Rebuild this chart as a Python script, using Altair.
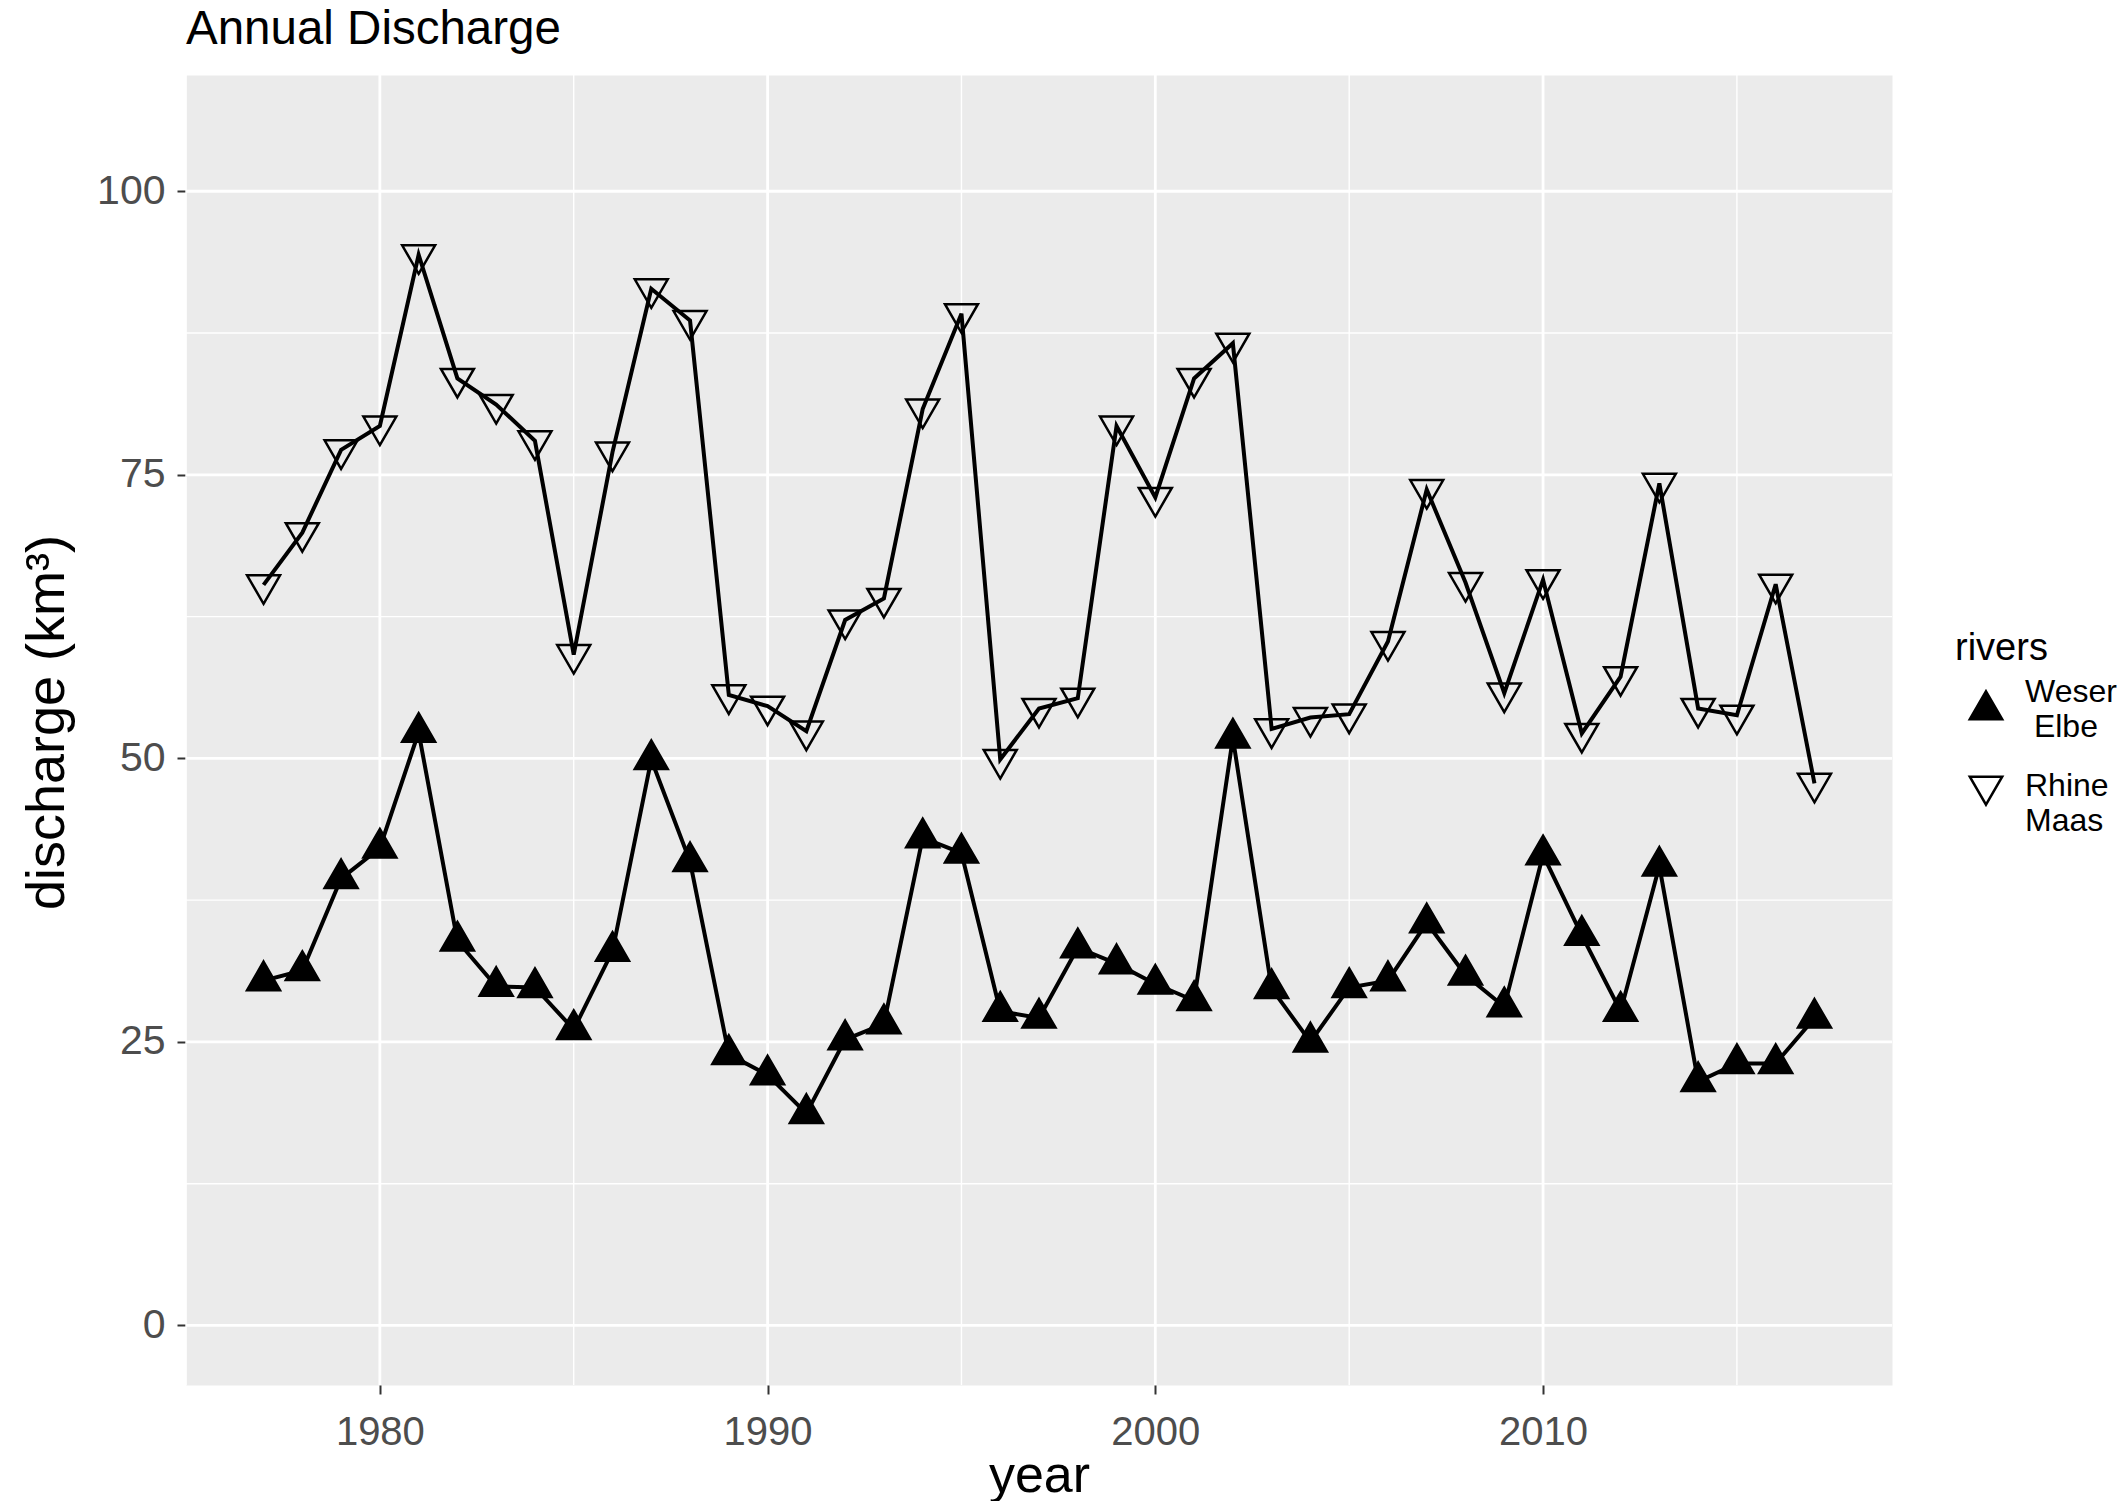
import altair as alt
import pandas as pd

FONT = "Liberation Sans"

years = list(range(1977, 2018))
weser_elbe = [30.4, 31.3, 39.4, 42.1, 52.3, 33.9, 29.9, 29.8, 26.1, 33.0,
              49.9, 40.9, 23.9, 22.1, 18.7, 25.2, 26.6, 43.0, 41.65, 27.7,
              27.1, 33.3, 31.9, 30.1, 28.65, 51.8, 29.7, 25.0, 29.8, 30.4,
              35.5, 30.9, 28.1, 41.5, 34.4, 27.7, 40.5, 21.5, 23.1, 23.1, 27.1]
rhine_maas = [65.3, 69.9, 77.2, 79.3, 94.4, 83.5, 81.2, 78.0, 59.15, 77.0,
              91.4, 88.6, 55.6, 54.6, 52.4, 62.2, 64.1, 80.8, 89.2, 49.9,
              54.4, 55.3, 79.3, 73.0, 83.5, 86.6, 52.6, 53.6, 53.9, 60.3,
              73.7, 65.5, 55.75, 65.75, 52.2, 57.2, 74.25, 54.4, 53.8, 65.35, 47.8]
rivers = ["Weser Elbe", "Rhine Maas"]

major_x = [1980, 1990, 2000, 2010]
minor_x = [1975, 1985, 1995, 2005, 2015]
major_y = [0, 25, 50, 75, 100]
minor_y = [12.5, 37.5, 62.5, 87.5]

df = pd.DataFrame({
    "year": years * 2,
    "discharge": weser_elbe + rhine_maas,
    "rivers": [rivers[0]] * len(years) + [rivers[1]] * len(years),
})

W, H = 1706, 1310
xscale = alt.Scale(domain=[1975, 2019], nice=False, zero=False)
yscale = alt.Scale(domain=[-5.25, 110.25], nice=False, zero=False)

up_path = "M0,-1L0.866,0.5L-0.866,0.5Z"
down_path = "M0,1L0.866,-0.5L-0.866,-0.5Z"

x_axis = alt.Axis(values=major_x, format="d", title="year", grid=False, domain=False,
                  tickSize=9, tickWidth=2, tickColor="#333333",
                  labelColor="#4D4D4D", labelFontSize=40, labelFont=FONT, labelPadding=18,
                  titleFontSize=52, titleFont=FONT, titleFontWeight="normal", titleColor="black",
                  titleX=W / 2, titleY=106, titleBaseline="alphabetic", titleAlign="center")
y_axis = alt.Axis(values=major_y, title="discharge (km³)", grid=False, domain=False,
                  tickSize=9, tickWidth=2, tickColor="#333333",
                  labelColor="#4D4D4D", labelFontSize=41, labelFont=FONT, labelPadding=12,
                  titleFontSize=54, titleFont=FONT, titleFontWeight="normal", titleColor="black",
                  titleX=-123, titleY=647, titleBaseline="alphabetic", titleAlign="center",
                  titleAngle=270)


def vgrid(vals, width):
    return alt.Chart(pd.DataFrame({"year": vals})).mark_rule(
        color="white", strokeWidth=width).encode(
        x=alt.X("year:Q", scale=xscale, axis=x_axis))


def hgrid(vals, width):
    return alt.Chart(pd.DataFrame({"discharge": vals})).mark_rule(
        color="white", strokeWidth=width).encode(
        y=alt.Y("discharge:Q", scale=yscale, axis=y_axis))


legend = alt.Legend(title="rivers", orient="none", legendX=1769, legendY=555,
                    titleFontSize=38, titleFont=FONT, titleFontWeight="normal", titleColor="black",
                    titlePadding=22, labelFont=FONT, labelFontSize=32, labelColor="black",
                    labelBaseline=alt.ExprRef(expr="datum.value == 'Weser Elbe' ? 'line-bottom' : 'middle'"),
                    labelExpr="datum.label == 'Weser Elbe' ? ['Weser', '\u200b\u00a0Elbe'] : ['Rhine', 'Maas']",
                    symbolSize=1400, symbolStrokeWidth=2.5, symbolStrokeColor="black",
                    symbolOffset=11, labelOffset=19, rowPadding=23, padding=0)

lines = alt.Chart(df).mark_line(color="black", strokeWidth=4).encode(
    x=alt.X("year:Q", scale=xscale, axis=x_axis),
    y=alt.Y("discharge:Q", scale=yscale, axis=y_axis),
    detail="rivers:N",
)

points = alt.Chart(df).mark_point(filled=True, strokeWidth=2.5,
                                  size=1450, opacity=1).encode(
    x=alt.X("year:Q", scale=xscale, axis=x_axis),
    y=alt.Y("discharge:Q", scale=yscale, axis=y_axis),
    shape=alt.Shape("rivers:N", scale=alt.Scale(domain=rivers, range=[up_path, down_path]),
                    legend=legend),
    fill=alt.Fill("rivers:N", scale=alt.Scale(domain=rivers, range=["black", "transparent"]),
                  legend=legend),
    stroke=alt.Stroke("rivers:N", scale=alt.Scale(domain=rivers, range=["black", "black"]),
                      legend=legend),
)

chart = alt.layer(
    vgrid(minor_x, 1.4), hgrid(minor_y, 1.4),
    vgrid(major_x, 2.8), hgrid(major_y, 2.8),
    lines, points,
).properties(
    width=W, height=H,
    background="white",
    title=alt.Title("Annual Discharge", anchor="start", frame="group", fontSize=47.5,
                    font=FONT, fontWeight="normal", color="black", offset=20),
    autosize=alt.AutoSizeParams(type="none"),
    padding={"left": 178, "top": 67, "right": 225, "bottom": 116},
).configure(
    view={"fill": "#EBEBEB", "stroke": "transparent"},
    style={"guide-label": {"lineHeight": 35}},
)

chart.save("out.html", embed_options={"renderer": "svg", "actions": False})
